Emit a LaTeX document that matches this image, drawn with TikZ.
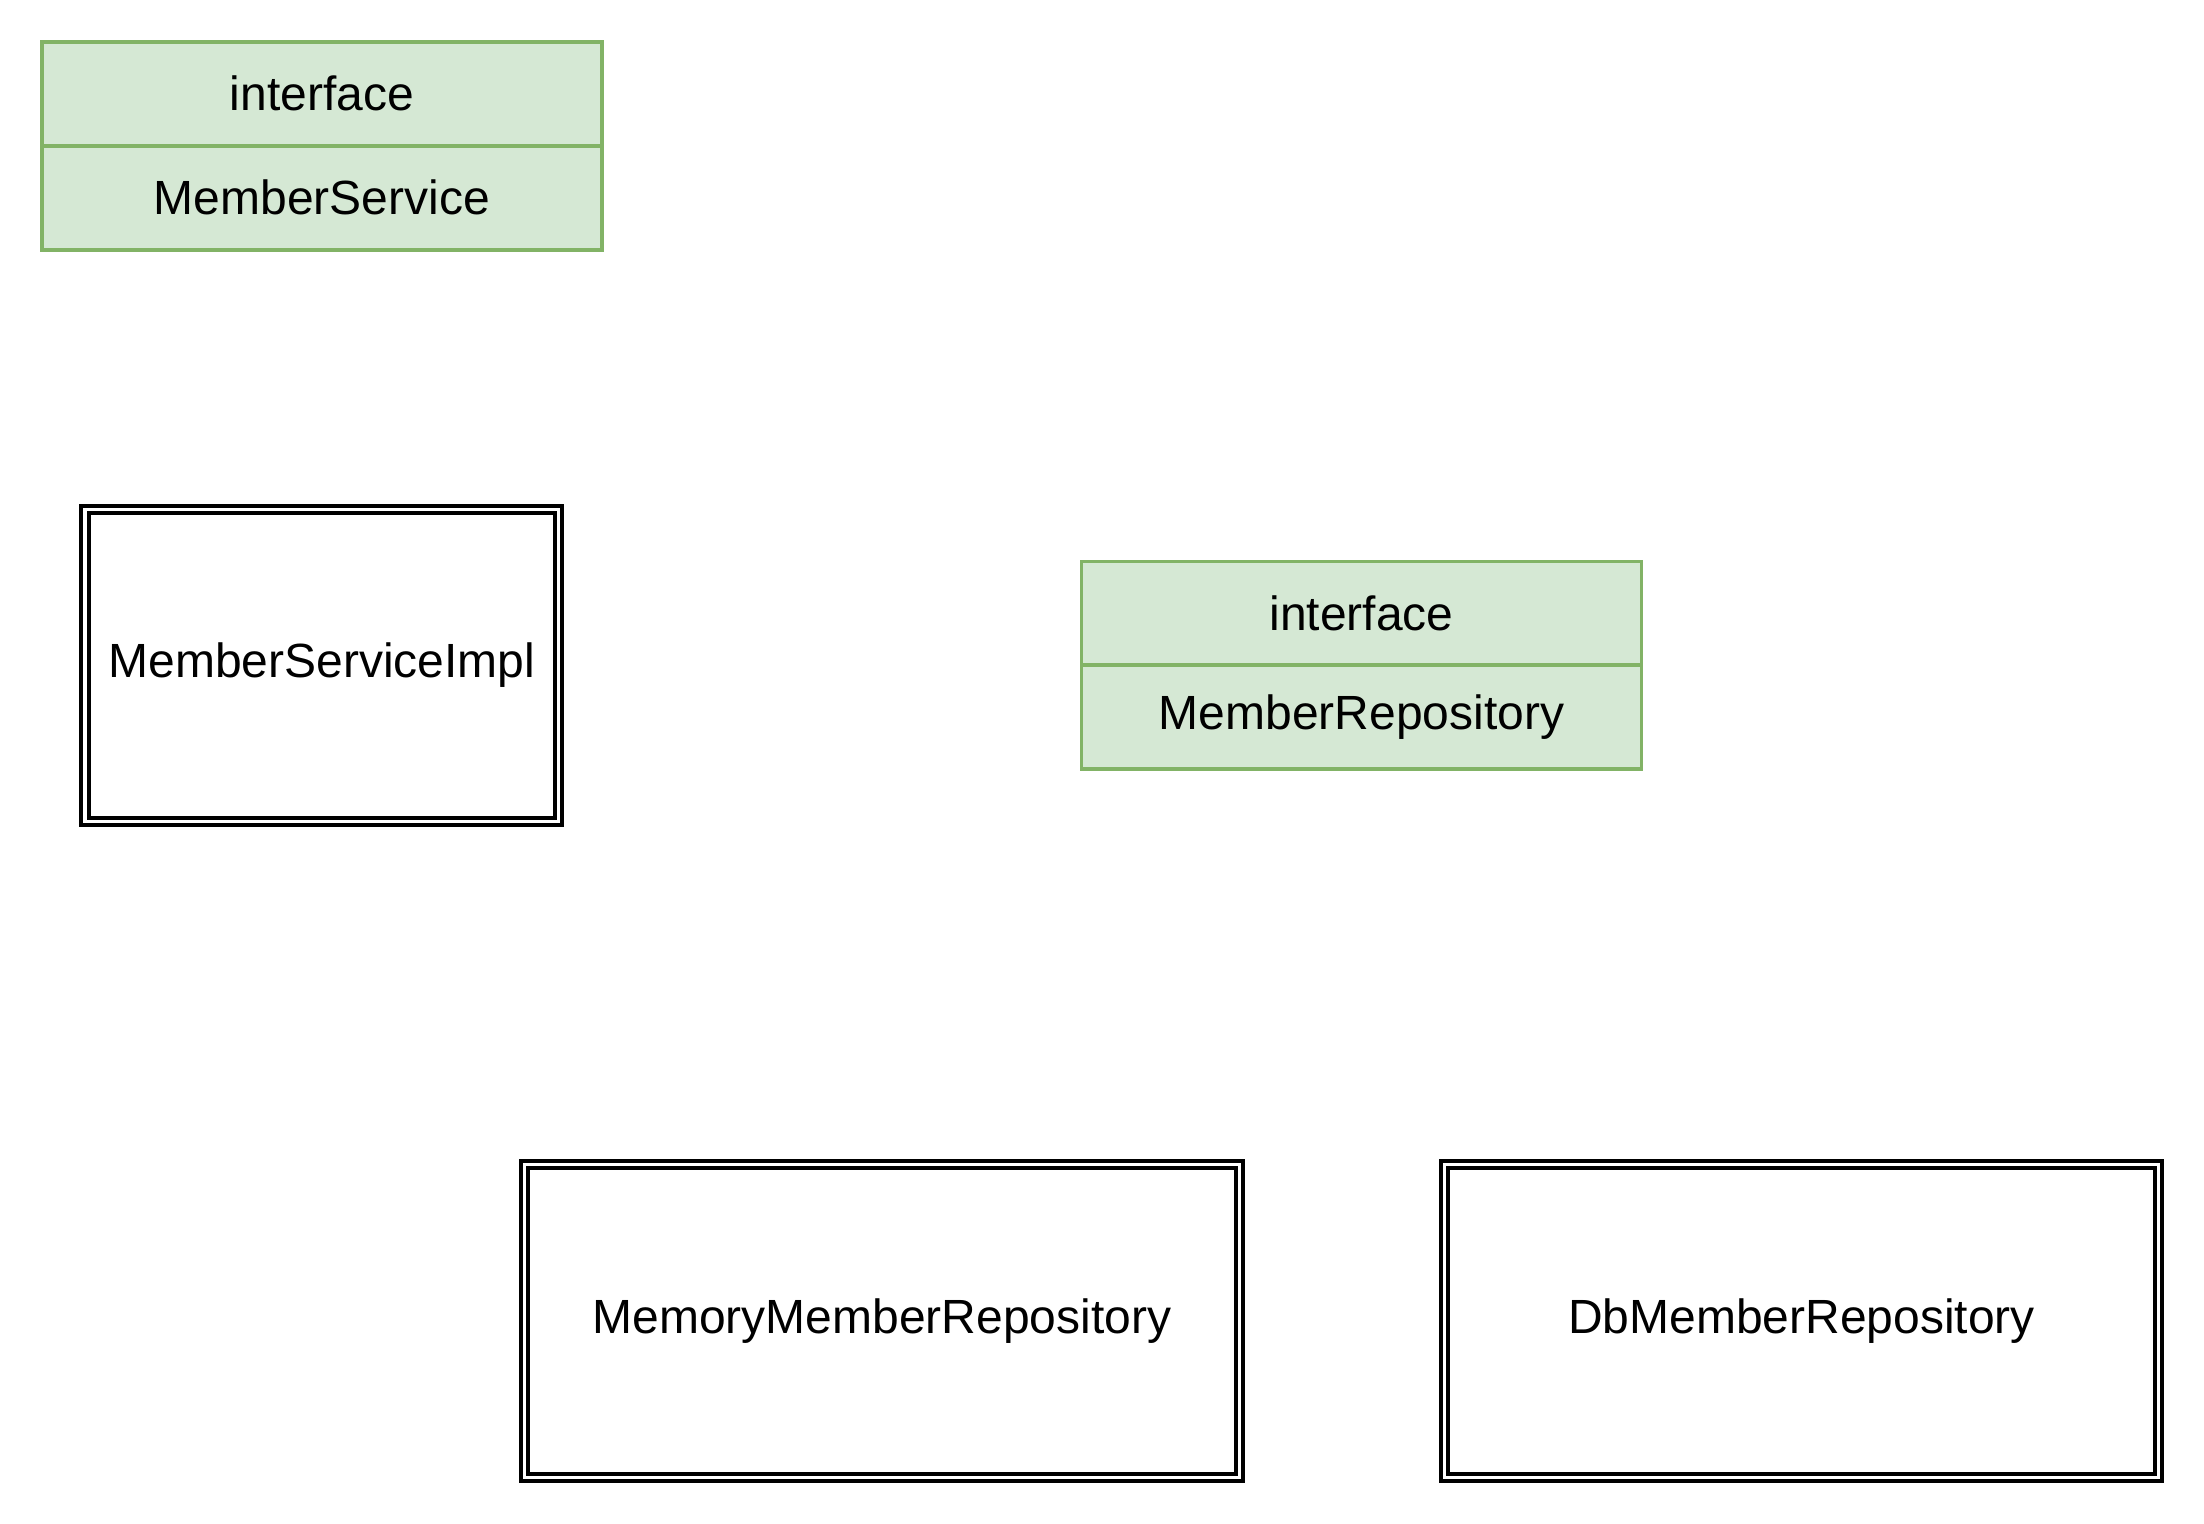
\documentclass[tikz,border=0pt]{standalone}
\usepackage{fontspec}
\setmainfont{Liberation Sans}
\definecolor{ifill}{HTML}{D5E8D4}
\definecolor{iline}{HTML}{82B366}
\begin{document}
\begin{tikzpicture}[x=0.5pt,y=-0.5pt,
  lbl/.style={font=\fontsize{24}{28}\selectfont, text=black, inner sep=0pt, align=center},
  iface/.style={lbl, draw=iline, fill=ifill, line width=1.8pt, minimum width=280pt, minimum height=52pt},
  impl/.style={lbl, draw=black, double=white, double distance=1.6pt, line width=2pt}
]
\useasboundingbox[fill=white] (0,0) rectangle (2204,1524);
% MemberService interface
\node[iface] (ms1) at (322,93.75) {interface};
\node[iface] (ms2) at (322,197.75) {MemberService};
% MemberServiceImpl
\node[impl, minimum width=236.75pt, minimum height=156pt] (msi) at (321.75,665.5) {MemberServiceImpl};
% MemberRepository interface
\node[iface] (mr1) at (1361.5,613.5) {interface};
\node[iface] (mr2) at (1361.5,717) {MemberRepository};
% Implementations
\node[impl, minimum width=357.5pt, minimum height=156.5pt] (mem) at (882,1321) {MemoryMemberRepository};
\node[impl, minimum width=357pt, minimum height=156.5pt] (db) at (1801.5,1321) {DbMemberRepository};
\end{tikzpicture}
\end{document}
